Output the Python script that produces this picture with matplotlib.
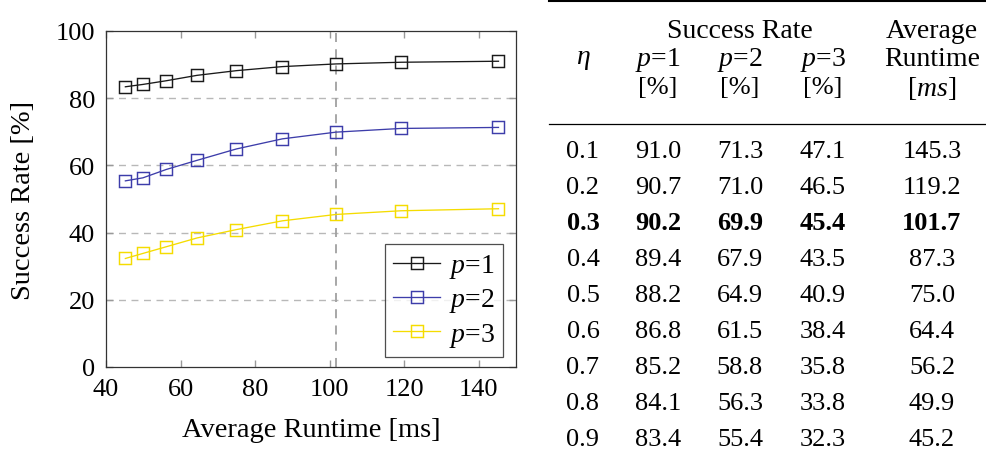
import matplotlib
matplotlib.use("Agg")
import matplotlib.pyplot as plt
from matplotlib.lines import Line2D

plt.rcParams['font.family'] = ['Liberation Serif', 'DejaVu Serif']
plt.rcParams['mathtext.fontset'] = 'custom'
plt.rcParams['mathtext.rm'] = 'Liberation Serif'
plt.rcParams['mathtext.it'] = 'Liberation Serif:italic'
plt.rcParams['mathtext.bf'] = 'Liberation Serif:bold'

# ---- data ----
eta = ["0.1", "0.2", "0.3", "0.4", "0.5", "0.6", "0.7", "0.8", "0.9"]
runtime = [145.3, 119.2, 101.7, 87.3, 75.0, 64.4, 56.2, 49.9, 45.2]
rate_p1 = [91.0, 90.7, 90.2, 89.4, 88.2, 86.8, 85.2, 84.1, 83.4]
rate_p2 = [71.3, 71.0, 69.9, 67.9, 64.9, 61.5, 58.8, 56.3, 55.4]
rate_p3 = [47.1, 46.5, 45.4, 43.5, 40.9, 38.4, 35.8, 33.8, 32.3]
series_labels = ["$p$=1", "$p$=2", "$p$=3"]
series_colors = ["#1a1a1a", "#3d3daa", "#f5dc00"]
highlight_idx = 2
x_ticks = [40, 60, 80, 100, 120, 140]
y_ticks = [0, 20, 40, 60, 80, 100]

W, H = 987, 464
fig = plt.figure(figsize=(W / 100, H / 100), dpi=100)

def fx(px):
    return px / W

def fy(py):
    return 1 - py / H

ax = fig.add_axes([fx(106), fy(368), fx(516) - fx(106), fy(32) - fy(368)])
ax.set_xlim(40, 150)
ax.set_ylim(0, 100)

# grid
for yv in y_ticks[1:-1]:
    ax.axhline(yv, color="#b8b8b8", lw=1.0, ls=(0, (5, 4)), zorder=0)
ax.axvline(runtime[highlight_idx], color="#a0a0a0", lw=1.3, ls=(0, (5, 4)), zorder=0)

for vals, lab, col in zip([rate_p1, rate_p2, rate_p3], series_labels, series_colors):
    ax.plot(runtime, vals, color=col, lw=0.95, marker="s", markersize=8,
            markerfacecolor="none", markeredgecolor=col, markeredgewidth=1.05,
            label=lab, zorder=3)

ax.set_xticks(x_ticks)
ax.set_yticks(y_ticks)
ax.tick_params(direction="in", length=5, width=1, color="#999999",
               top=True, right=True, labelsize=19, pad=8)
for sp in ax.spines.values():
    sp.set_color("#333333")
    sp.set_linewidth(0.9)
ax.set_xlabel("Average Runtime [ms]", fontsize=20.5, labelpad=12)
ax.set_ylabel("Success Rate [%]", fontsize=20.5, labelpad=14)

leg = ax.legend(loc="lower right", bbox_to_anchor=(0.968, 0.03), fontsize=20,
                frameon=True, fancybox=False, edgecolor="#222222",
                handlelength=1.7, handletextpad=0.3, borderpad=0.3,
                labelspacing=0.22, borderaxespad=0)
leg.get_frame().set_linewidth(0.9)

# ---- table ----
fs = 19
col_x = [583, 658, 740, 823, 932]
fig.text(fx(740), fy(32), "Success Rate", fontsize=fs + 1, ha="center", va="center")
fig.text(fx(932), fy(32), "Average", fontsize=fs + 1, ha="center", va="center")
fig.text(fx(col_x[0]), fy(60), r"$\eta$", fontsize=fs + 1, ha="center", va="center")
for cx, lab in zip(col_x[1:4], series_labels):
    fig.text(fx(cx), fy(60), lab, fontsize=fs + 1, ha="center", va="center")
    fig.text(fx(cx), fy(88), "[%]", fontsize=fs, ha="center", va="center")
fig.text(fx(932), fy(60), "Runtime", fontsize=fs + 1, ha="center", va="center")
fig.text(fx(932), fy(88), "[$ms$]", fontsize=fs + 1, ha="center", va="center")

for i in range(len(eta)):
    y = fy(152 + 36 * i)
    w = "bold" if i == highlight_idx else "normal"
    cells = [eta[i], f"{rate_p1[i]:.1f}", f"{rate_p2[i]:.1f}", f"{rate_p3[i]:.1f}", f"{runtime[i]:.1f}"]
    for cx, c in zip(col_x, cells):
        fig.text(fx(cx), y, c, fontsize=fs, ha="center", va="center", fontweight=w)

fig.add_artist(Line2D([fx(549), fx(987)], [fy(2), fy(2)], color="black", lw=1.5))
fig.add_artist(Line2D([fx(549), fx(987)], [fy(125), fy(125)], color="black", lw=0.9))

fig.savefig("out.png", dpi=100)
